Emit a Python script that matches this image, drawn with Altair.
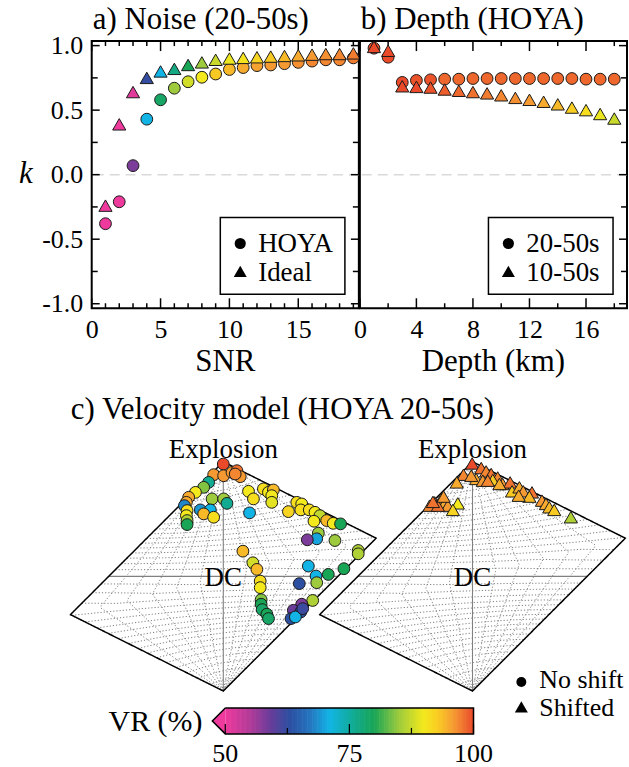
import altair as alt
import numpy as np
import pandas as pd

SERIF = "Liberation Serif"

# ---------------- a) Noise (20-50s) ----------------
SNR = [1, 2, 3, 4, 5, 6, 7, 8, 9, 10, 11, 12, 13, 14, 15, 16, 17, 18, 19]
K_HOYA = [-0.38, -0.21, 0.07, 0.43, 0.58, 0.67, 0.72, 0.755, 0.78, 0.815,
          0.83, 0.845, 0.85, 0.86, 0.87, 0.88, 0.89, 0.89, 0.905]
VR_HOYA = [50, 50, 58, 71, 79, 85, 88, 90, 93, 94,
           95, 95.5, 96, 96, 96.5, 97, 97, 97, 97.5]
K_IDEAL = [-0.24, 0.39, 0.64, 0.75, 0.80, 0.82, 0.85, 0.87, 0.89, 0.90,
           0.905, 0.91, 0.915, 0.92, 0.925, 0.93, 0.935, 0.935, 0.94]
VR_IDEAL = [50, 50, 51, 62.5, 71, 77, 80, 85, 87.5, 89.5,
            90.5, 92, 93, 94, 95, 96, 96.5, 97, 97.5]

# ---------------- b) Depth (HOYA) ----------------
DEPTH = [1, 2, 3, 4, 5, 6, 7, 8, 9, 10, 11, 12, 13, 14, 15, 16, 17, 18]
K_20_50 = [0.98, 0.91, 0.715, 0.73, 0.735, 0.74, 0.74, 0.745, 0.745, 0.745,
           0.745, 0.745, 0.745, 0.745, 0.745, 0.74, 0.74, 0.74]
VR_20_50 = [100, 100, 100, 99.5, 99.5, 98.5, 98.5, 98.5, 98.5, 98.5,
            98.5, 98.5, 98.5, 98.5, 98.5, 98.5, 98.5, 98.5]
K_10_50 = [0.99, 0.96, 0.685, 0.68, 0.675, 0.66, 0.65, 0.64, 0.63, 0.615,
           0.595, 0.58, 0.565, 0.545, 0.52, 0.50, 0.47, 0.435]
VR_10_50 = [100, 100, 100, 100, 99.5, 99, 98.5, 98, 97.5, 97,
            96.5, 96, 95, 94, 92.5, 91, 89.5, 87.5]

# ---------------- c) Velocity model: Hudson source-type coordinates ----------------
U_NOSHIFT = [0.00, -0.084, 0.003, 0.076, 0.119, 0.148, 0.104, -0.128, -0.171, -0.243,
             -0.302, -0.322, -0.339, -0.316, -0.322, -0.316, -0.316, -0.098, 0.003, 0.032,
             -0.200, -0.113, -0.171, -0.084, 0.220, 0.263, 0.229, 0.350, 0.394, 0.437,
             0.423, 0.423, 0.641, 0.684, 0.568, 0.676, 0.750, 0.800, 0.843, 0.791,
             0.902, 0.959, 1.023, 0.829, 0.815, 0.733, 0.974, 1.177, 1.177, 0.171,
             0.258, 0.293, 0.322, 0.322, 0.330, 0.330, 0.339, 0.380, 0.394, 0.742,
             0.809, 0.815, 0.916, 1.052, 0.663, 0.780, 0.684, 0.611, 0.676, 0.591,
             0.629, 0.693]
V_NOSHIFT = [0.980, 0.887, 0.878, 0.907, 0.922, 0.870, 0.893, 0.820, 0.777, 0.733,
             0.690, 0.646, 0.617, 0.574, 0.530, 0.487, 0.452, 0.676, 0.676, 0.637,
             0.580, 0.580, 0.545, 0.516, 0.742, 0.676, 0.554, 0.763, 0.733, 0.754,
             0.704, 0.646, 0.646, 0.632, 0.565, 0.580, 0.580, 0.559, 0.530, 0.481,
             0.487, 0.463, 0.458, 0.377, 0.328, 0.319, 0.313, 0.226, 0.197, 0.220,
             0.119, 0.061, -0.041, -0.098, -0.203, -0.243, -0.290, -0.330, -0.368, 0.090,
             0.003, -0.055, 0.017, 0.067, -0.063, -0.210, -0.243, -0.296, -0.310, -0.368,
             -0.354, -0.281]
VR_NOSHIFT = [100, 96, 96, 96, 98, 96, 97, 76, 84, 90,
              95, 95, 68, 91, 90, 86, 80, 85, 85, 76,
              69, 71, 94, 91, 90, 91, 71, 91, 90, 94,
              90, 89, 91, 90, 92, 91, 91, 90, 87, 90,
              94, 90, 80, 85, 70, 58, 85, 86, 86, 94,
              88, 94, 91, 90, 84, 80, 79, 80, 79, 71,
              71, 85, 80, 80, 63, 86, 58, 59, 63, 63,
              71, 62]

U_SHIFTED = [-0.003, -0.078, -0.137, 0.076, 0.119, 0.163, 0.220, 0.032, 0.090, -0.011,
             0.263, 0.328, 0.345, 0.409, 0.443, 0.519, 0.496, 0.606, 0.641, 0.670,
             0.713, 0.858, 0.403, -0.330, -0.374, -0.272, -0.243, -0.215, -0.128, -0.171,
             -0.302, -0.345, -0.252, 0.177, 0.235, 0.133]
V_SHIFTED = [0.985, 0.887, 0.820, 0.945, 0.916, 0.893, 0.863, 0.850, 0.835, 0.878,
             0.806, 0.820, 0.742, 0.777, 0.742, 0.733, 0.696, 0.661, 0.632, 0.603,
             0.580, 0.516, 0.704, 0.646, 0.617, 0.676, 0.637, 0.617, 0.637, 0.580,
             0.617, 0.650, 0.696, 0.841, 0.806, 0.835]
VR_SHIFTED = [100, 97, 95, 98, 97, 98, 97, 95, 96, 96,
              96, 98, 93, 95, 96, 98, 94, 96, 95, 94,
              93, 86, 95, 99, 97, 95, 95, 96, 90, 92,
              98, 98, 96, 93, 95, 97]

# ---------------- ticks, labels, colour map ----------------
SNR_LABELS = [0, 5, 10, 15]
SNR_MINOR = [1, 2, 3, 4, 6, 7, 8, 9, 11, 12, 13, 14, 16, 17, 18, 19]
DEPTH_LABELS = [0, 4, 8, 12, 16]
DEPTH_MINOR = [2, 6, 10, 14, 18]
K_LABELS = [-1.0, -0.5, 0.0, 0.5, 1.0]
K_MINOR = [-0.75, -0.25, 0.25, 0.75]
VR_LABELS = [50, 75, 100]
VR_MINOR = [62.5, 87.5]

VR_STOPS = [50, 55, 59, 63, 67, 71, 76, 80, 85, 90, 93, 96, 100]
VR_COLORS = ["#ee3a9c", "#b23b99", "#6a3d9a", "#2c4fa1", "#2575bf", "#12b4e6",
             "#12aa90", "#19a556", "#9ecb3d", "#f4e91c", "#f9c923", "#f59a33", "#ea4a2a"]
VR_SCALE = alt.Scale(domain=VR_STOPS, range=VR_COLORS, interpolate="rgb", clamp=True)
VR_COLOR = alt.Color("vr:Q", scale=VR_SCALE, legend=None)

W, H = 268, 268          # scatter panel plot areas
LH = 300                 # lune row height
PX_PER_UNIT = 115        # Hudson plot scale

AX = dict(ticks=False, domain=False, grid=False, title=None, labelFont=SERIF,
          labelFontSize=26, labelColor="black", labelFlush=False, labelOverlap=False)


def one():
    return alt.Chart(pd.DataFrame({"z": [0]}))


def text(s, x, y, size, align="left", baseline="alphabetic", style="normal"):
    return one().mark_text(text=s, font=SERIF, fontSize=size, fontStyle=style,
                           align=align, baseline=baseline, color="black").encode(
        x=alt.value(x), y=alt.value(y))


def marker(shape, x, y, size):
    return one().mark_point(shape=shape, filled=True, color="black", opacity=1,
                            size=size).encode(x=alt.value(x), y=alt.value(y))


def scatter_panel(xfield, xdomain, xlabels, xminor, series, legend_labels,
                  title, xtitle, left_axis):
    X = alt.X(f"{xfield}:Q", scale=alt.Scale(domain=xdomain, nice=False, zero=False),
              axis=alt.Axis(values=xlabels, labelPadding=8, **AX))
    yscale = alt.Scale(domain=[-1.035, 1.035], nice=False, zero=False)
    if left_axis:
        Y = alt.Y("k:Q", scale=yscale, axis=alt.Axis(
            values=K_LABELS, labelPadding=9,
            labelExpr="datum.value < 0 ? '-' + format(-datum.value, '.1f') : format(datum.value, '.1f')",
            **AX))
    else:
        Y = alt.Y("k:Q", scale=yscale, axis=None)

    layers = [alt.Chart(pd.DataFrame({"k": [0.0]})).mark_rule(
        color="#d9d9d9", strokeDash=[10, 6], strokeWidth=1.5).encode(y=Y)]

    # inward ticks on all four sides
    for vals, ln in ((xlabels, 10), (xminor, 5)):
        d = pd.DataFrame({xfield: vals})
        layers.append(alt.Chart(d).mark_rule(color="black", strokeWidth=1.5).encode(
            x=X, y=alt.value(H), y2=alt.value(H - ln)))
        layers.append(alt.Chart(d).mark_rule(color="black", strokeWidth=1.5).encode(
            x=X, y=alt.value(0), y2=alt.value(ln)))
    for vals, ln in ((K_LABELS, 8), (K_MINOR, 6)):
        d = pd.DataFrame({"k": vals})
        if left_axis:
            layers.append(alt.Chart(d).mark_rule(color="black", strokeWidth=1.5).encode(
                y=Y, x=alt.value(0), x2=alt.value(ln)))
        layers.append(alt.Chart(d).mark_rule(color="black", strokeWidth=1.5).encode(
            y=Y, x=alt.value(W), x2=alt.value(W - ln)))

    for xs, ks, vrs, shape, size in series:
        d = pd.DataFrame({xfield: xs, "k": ks, "vr": vrs})
        layers.append(alt.Chart(d).mark_point(
            shape=shape, filled=True, size=size, opacity=1, stroke="#1a1a1a",
            strokeWidth=1).encode(x=X, y=Y, color=VR_COLOR))

    # legend box
    layers.append(one().mark_rect(fill="white", stroke="black", strokeWidth=1.5).encode(
        x=alt.value(129), x2=alt.value(254), y=alt.value(177), y2=alt.value(254)))
    layers.append(marker("circle", 149, 203, 125))
    layers.append(marker("triangle-up", 149, 231, 170))
    layers.append(text(legend_labels[0], 167, 212, 27))
    layers.append(text(legend_labels[1], 167, 241, 27))

    layers.append(text(title, 1, -12, 31))
    layers.append(text(xtitle, W / 2, 331, 31, align="center"))
    if left_axis:
        layers.append(text("k", -66, 133, 31, align="center", baseline="middle", style="italic"))

    return alt.layer(*layers).properties(width=W, height=H)


panel_a = scatter_panel(
    "snr", [0, 19.4], SNR_LABELS, SNR_MINOR,
    [(SNR, K_HOYA, VR_HOYA, "circle", 140), (SNR, K_IDEAL, VR_IDEAL, "triangle-up", 175)],
    ["HOYA", "Ideal"], "a) Noise (20-50s)", "SNR", True)

panel_b = scatter_panel(
    "depth", [0, 18.9], DEPTH_LABELS, DEPTH_MINOR,
    [(DEPTH, K_20_50, VR_20_50, "circle", 140), (DEPTH, K_10_50, VR_10_50, "triangle-up", 175)],
    ["20-50s", "10-50s"], "b) Depth (HOYA)", "Depth (km)", False)


# ---------------- lune (gamma, delta) mapped to the skewed Hudson plot ----------------
ISO = np.array([1.0, 1.0, 1.0]) / np.sqrt(3)
DCV = np.array([1.0, 0.0, -1.0]) / np.sqrt(2)
CLV = np.array([-1.0, 2.0, -1.0]) / np.sqrt(6)


def hudson_uv(gamma, delta):
    g = np.radians(gamma)
    b = np.radians(90.0 - delta)
    lam = np.cos(b) * ISO + np.sin(b) * (np.cos(g) * DCV + np.sin(g) * CLV)
    lam = np.sort(lam)[::-1]
    m_iso = lam.mean()
    dev = lam - m_iso
    big = dev[np.argmax(np.abs(dev))]
    if abs(big) < 1e-12:
        return 0.0, float(np.sign(m_iso))
    k = m_iso / (abs(m_iso) + abs(big))
    T = 2.0 * dev[1] / abs(big)
    tau = T * (1.0 - abs(k))
    if tau >= 0 and k >= 0:
        s = 1.0 - tau / 2 if tau <= 4 * k else 1.0 - 2 * k
    elif tau <= 0 and k <= 0:
        s = 1.0 + tau / 2 if tau >= 4 * k else 1.0 + 2 * k
    else:
        s = 1.0
    return float(tau / s), float(k / s)


def polyline(pairs, name):
    rows = []
    for i, (g, d) in enumerate(pairs):
        u, v = hudson_uv(g, d)
        rows.append({"line": name, "i": i, "u": u, "v": v})
    return rows


grid_rows = []
for g in (-25, -20, -15, -10, -5, 5, 10, 15, 20, 25):
    grid_rows += polyline([(g, d) for d in np.arange(90, -90.5, -1.0)], f"g{g}")
for d in range(-85, 90, 5):
    if d != 0:
        grid_rows += polyline([(g, d) for g in np.arange(-30, 30.5, 1.0)], f"d{d}")
GRID = pd.DataFrame(grid_rows)

AXES = pd.DataFrame(
    polyline([(0, d) for d in np.arange(90, -90.5, -1.0)], "dc_meridian")
    + polyline([(g, 0) for g in np.arange(-30, 30.5, 1.0)], "equator"))

BORDER = pd.DataFrame(
    polyline([(30, d) for d in np.arange(90, -90.1, -0.25)]
             + [(-30, d) for d in np.arange(-90, 90.1, 0.25)], "edge"))


def lune_panel(center_px, us, vs, vrs, shape, size, extra):
    top_px = 176
    X = alt.X("u:Q", scale=alt.Scale(domain=[-center_px / PX_PER_UNIT, (W - center_px) / PX_PER_UNIT],
                                      nice=False, zero=False), axis=None)
    Y = alt.Y("v:Q", scale=alt.Scale(domain=[(top_px - LH) / PX_PER_UNIT, top_px / PX_PER_UNIT],
                                      nice=False, zero=False), axis=None)
    layers = [
        alt.Chart(GRID).mark_line(color="#707070", strokeWidth=0.9, strokeDash=[1.2, 2]).encode(
            x=X, y=Y, detail="line:N", order="i:Q"),
        alt.Chart(AXES).mark_line(color="#808080", strokeWidth=1.1).encode(
            x=X, y=Y, detail="line:N", order="i:Q"),
        alt.Chart(BORDER).mark_line(color="black", strokeWidth=1.5).encode(
            x=X, y=Y, order="i:Q"),
        alt.Chart(pd.DataFrame({"u": us, "v": vs, "vr": vrs})).mark_point(
            shape=shape, filled=True, size=size, opacity=1, stroke="#1a1a1a",
            strokeWidth=1).encode(x=X, y=Y, color=VR_COLOR),
        alt.Chart(pd.DataFrame({"u": [0.0], "v": [1.0]})).mark_text(
            text="Explosion", font=SERIF, fontSize=27, align="center", baseline="alphabetic",
            dy=-4, color="black").encode(x=X, y=Y),
        alt.Chart(pd.DataFrame({"u": [0.0], "v": [0.0]})).mark_text(
            text="DC", font=SERIF, fontSize=27, align="center", baseline="middle",
            dy=2, color="black").encode(x=X, y=Y),
    ]
    layers += extra
    return alt.layer(*layers).properties(
        width=W, height=LH, view=alt.ViewBackground(strokeWidth=0, strokeOpacity=0))


# colour bar with a lower-end extension, drawn in the left lune's pixel frame
CB_LEFT, CB_RIGHT, CB_TOP, CB_BOTTOM, CB_TIP = 134, 383, 308, 334, 121


def cb_px(vr):
    return CB_LEFT + (vr - 50) / 50 * (CB_RIGHT - CB_LEFT)


steps = np.arange(50, 100, 0.5)
cb_cells = pd.DataFrame({"x0": [cb_px(s) for s in steps],
                         "x1": [cb_px(s + 0.5) + 0.6 for s in steps],
                         "vr": steps + 0.25})
cb_outline = pd.DataFrame({
    "px": [CB_LEFT, CB_RIGHT, CB_RIGHT, CB_LEFT, CB_TIP, CB_LEFT],
    "py": [CB_TOP, CB_TOP, CB_BOTTOM, CB_BOTTOM, (CB_TOP + CB_BOTTOM) / 2, CB_TOP],
    "i": [0, 1, 2, 3, 4, 5]})
PXS = alt.X("px:Q", scale=None)

colorbar = [
    alt.Chart(cb_cells).mark_rect().encode(
        x=alt.X("x0:Q", scale=None), x2="x1:Q", y=alt.value(CB_TOP), y2=alt.value(CB_BOTTOM),
        color=VR_COLOR),
    alt.Chart(pd.DataFrame({"vr": [50]})).mark_point(
        shape="M1,-1L0,0L1,1Z", filled=True, opacity=1, size=676, strokeWidth=0).encode(
        x=alt.value(CB_TIP), y=alt.value((CB_TOP + CB_BOTTOM) / 2), color=VR_COLOR),
    alt.Chart(cb_outline).mark_line(color="black", strokeWidth=1.5).encode(
        x=PXS, y=alt.Y("py:Q", scale=None), order="i:Q"),
    alt.Chart(pd.DataFrame({"px": [cb_px(v) for v in VR_LABELS]})).mark_rule(
        color="black", strokeWidth=1.2).encode(
        x=PXS, y=alt.value(CB_BOTTOM), y2=alt.value(CB_BOTTOM - 10)),
    alt.Chart(pd.DataFrame({"px": [cb_px(v) for v in VR_MINOR]})).mark_rule(
        color="black", strokeWidth=1.2).encode(
        x=PXS, y=alt.value(CB_BOTTOM), y2=alt.value(CB_BOTTOM - 6)),
    alt.Chart(pd.DataFrame({"px": [cb_px(v) for v in VR_LABELS],
                            "lab": [str(v) for v in VR_LABELS]})).mark_text(
        font=SERIF, fontSize=26, align="center", baseline="alphabetic", color="black").encode(
        x=PXS, y=alt.value(362), text="lab:N"),
    text("VR (%)", 111, 331, 30, align="right"),
    text("c) Velocity model (HOYA 20-50s)", -21, 18, 31),
    # page corners, keep the whole figure in frame
    one().mark_point(filled=True, color="white", size=1, opacity=1).encode(
        x=alt.value(-91), y=alt.value(-400)),
    one().mark_point(filled=True, color="white", size=1, opacity=1).encode(
        x=alt.value(538), y=alt.value(367)),
]

shape_legend = [
    marker("circle", 162, 282, 100),
    text("No shift", 180, 288, 26),
    marker("triangle-up", 162, 307, 170),
    text("Shifted", 180, 316, 26),
]

lune_left = lune_panel(132, U_NOSHIFT, V_NOSHIFT, VR_NOSHIFT, "circle", 140, colorbar)
lune_right = lune_panel(113, U_SHIFTED, V_SHIFTED, VR_SHIFTED, "triangle-up", 175, shape_legend)

chart = alt.concat(
    panel_a, panel_b, lune_left, lune_right,
    columns=2, spacing={"row": 93, "column": 1}, bounds="flush",
).properties(padding=0).configure_view(stroke="black", strokeWidth=2)

chart.save("out.html", embed_options={"renderer": "svg", "actions": False})
